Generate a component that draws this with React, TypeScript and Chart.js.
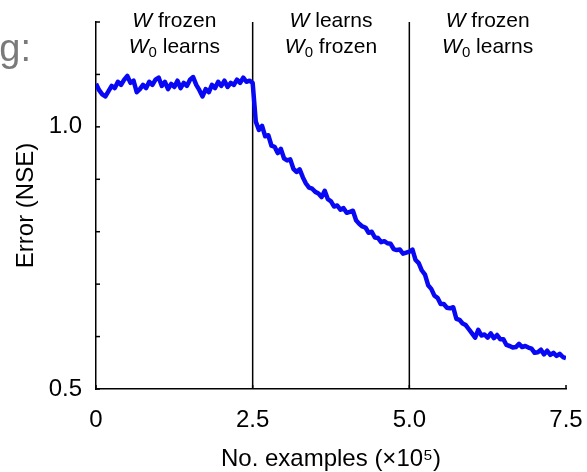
import React, { useEffect, useRef } from 'react';
import { Chart, registerables } from 'chart.js';

Chart.register(...registerables);

// ---------- data ----------
const SAMPLE_STEP = 0.05; // ×10^5 examples between samples

// Phase 1: x = 0 … 2.5 (W frozen, W0 learns)
const phase1Error = [
  1.082, 1.070, 1.062, 1.058, 1.068, 1.078, 1.074, 1.086, 1.080, 1.090,
  1.097, 1.084, 1.088, 1.066, 1.072, 1.080, 1.074, 1.086, 1.080, 1.090,
  1.094, 1.078, 1.086, 1.072, 1.082, 1.076, 1.088, 1.074, 1.084, 1.078,
  1.090, 1.095, 1.080, 1.070, 1.058, 1.072, 1.066, 1.080, 1.074, 1.086,
  1.078, 1.088, 1.076, 1.084, 1.080, 1.090, 1.084, 1.094, 1.086, 1.088,
  1.084,
];

// Phase 2: x = 2.55 … 5.0 (W learns, W0 frozen)
const phase2Error = [
  1.010, 0.994, 1.002, 0.982, 0.984, 0.964, 0.962, 0.950, 0.958, 0.940,
  0.936, 0.938, 0.920, 0.914, 0.919, 0.904, 0.892, 0.884, 0.882, 0.876,
  0.873, 0.866, 0.878, 0.862, 0.858, 0.848, 0.850, 0.842, 0.845, 0.836,
  0.838, 0.840, 0.822, 0.815, 0.810, 0.808, 0.798, 0.800, 0.789, 0.788,
  0.780, 0.782, 0.778, 0.777, 0.767, 0.765, 0.766, 0.758, 0.760, 0.762,
];

// Phase 3: x = 5.05 … 7.5 (W frozen, W0 learns)
const phase3Error = [
  0.766, 0.746, 0.740, 0.726, 0.718, 0.698, 0.691, 0.678, 0.674, 0.662,
  0.662, 0.655, 0.654, 0.656, 0.634, 0.632, 0.625, 0.622, 0.614, 0.606,
  0.598, 0.613, 0.602, 0.604, 0.598, 0.606, 0.597, 0.603, 0.595, 0.595,
  0.584, 0.582, 0.579, 0.580, 0.586, 0.580, 0.582, 0.579, 0.577, 0.569,
  0.570, 0.575, 0.566, 0.573, 0.565, 0.569, 0.563, 0.567, 0.561, 0.559,
];

const phaseBounds = [0, 2.5, 5.0, 7.5];
const phaseWLabels = ['frozen', 'learns', 'frozen'];
const phaseW0Labels = ['learns', 'frozen', 'learns'];

const xTickLabels = ['0', '2.5', '5.0', '7.5'];
const yLabeledTicks = ['0.5', '1.0'];
const X_MIN = 0;
const X_MAX = 7.5;
const X_STEP = 2.5;
const Y_MIN = 0.5;
const Y_MAX = 1.2;
const Y_STEP = 0.1;

const xTitle = 'No. examples (×10⁵)';
const yTitle = 'Error (NSE)';
const panelTitleTail = 'g:';

// ---------- style ----------
const FONT = '"Liberation Sans", Arial, Helvetica, sans-serif';
const LINE_BLUE = '#0808f4';

const decorPlugin = {
  id: 'decor',
  beforeDatasetsDraw(chart: any) {
    const { ctx, chartArea, scales } = chart;
    const x = scales.x;
    const y = scales.y;
    ctx.save();
    ctx.strokeStyle = '#000';
    ctx.lineWidth = 1.5;
    // phase boundaries
    phaseBounds.slice(1, -1).forEach((v) => {
      const px = x.getPixelForValue(v);
      ctx.beginPath();
      ctx.moveTo(px, chartArea.top);
      ctx.lineTo(px, chartArea.bottom);
      ctx.stroke();
    });
    // inward ticks
    y.ticks.forEach((t: any) => {
      const py = y.getPixelForValue(t.value);
      ctx.beginPath();
      ctx.moveTo(chartArea.left, py);
      ctx.lineTo(chartArea.left + 4, py);
      ctx.stroke();
    });
    x.ticks.forEach((t: any) => {
      const px = x.getPixelForValue(t.value);
      ctx.beginPath();
      ctx.moveTo(px, chartArea.bottom);
      ctx.lineTo(px, chartArea.bottom - 4);
      ctx.stroke();
    });
    ctx.restore();
  },
  afterDraw(chart: any) {
    const { ctx, scales } = chart;
    const x = scales.x;
    ctx.save();
    ctx.fillStyle = '#000';
    ctx.textBaseline = 'alphabetic';
    ctx.textAlign = 'left';
    const mainFont = `21px ${FONT}`;
    const italFont = `italic 21px ${FONT}`;
    const subFont = `15px ${FONT}`;
    for (let i = 0; i < phaseWLabels.length; i++) {
      const cx = (x.getPixelForValue(phaseBounds[i]) + x.getPixelForValue(phaseBounds[i + 1])) / 2;
      // line 1: "W frozen"
      ctx.font = italFont;
      const wW = ctx.measureText('W').width;
      ctx.font = mainFont;
      const r1 = ' ' + phaseWLabels[i];
      const r1W = ctx.measureText(r1).width;
      let sx = cx - (wW + r1W) / 2;
      ctx.font = italFont;
      ctx.fillText('W', sx, 27);
      ctx.font = mainFont;
      ctx.fillText(r1, sx + wW, 27);
      // line 2: "W0 learns"
      ctx.font = subFont;
      const subW = ctx.measureText('0').width;
      ctx.font = mainFont;
      const r2 = ' ' + phaseW0Labels[i];
      const r2W = ctx.measureText(r2).width;
      sx = cx - (wW + subW + r2W) / 2;
      ctx.font = italFont;
      ctx.fillText('W', sx, 53);
      ctx.font = subFont;
      ctx.fillText('0', sx + wW, 57);
      ctx.font = mainFont;
      ctx.fillText(r2, sx + wW + subW, 53);
    }
    // cropped panel heading
    ctx.fillStyle = '#7a7a7a';
    ctx.font = `38px ${FONT}`;
    ctx.textAlign = 'right';
    ctx.fillText(panelTitleTail, 31, 61);
    ctx.restore();
  },
};

export default function App() {
  const canvasRef = useRef<HTMLCanvasElement | null>(null);

  useEffect(() => {
    if (!canvasRef.current) return;
    const series = [...phase1Error, ...phase2Error, ...phase3Error];
    const points = series.map((v, i) => ({ x: i * SAMPLE_STEP, y: v }));

    const chart = new Chart(canvasRef.current, {
      type: 'line',
      data: {
        datasets: [
          {
            data: points,
            borderColor: LINE_BLUE,
            borderWidth: 4.5,
            pointRadius: 0,
            tension: 0,
            borderJoinStyle: 'round',
            fill: false,
          } as any,
        ],
      },
      options: {
        animation: false,
        responsive: false,
        devicePixelRatio: 1,
        layout: { padding: { left: 0, right: 21, top: 22, bottom: 0 } },
        plugins: {
          legend: { display: false },
          tooltip: { enabled: false },
        },
        scales: {
          x: {
            type: 'linear',
            min: X_MIN,
            max: X_MAX,
            grid: { display: false },
            border: { display: true, color: '#000', width: 1.5 },
            ticks: {
              stepSize: X_STEP,
              autoSkip: false,
              maxRotation: 0,
              padding: 9,
              color: '#000',
              font: { family: FONT, size: 24 },
              callback: (_v: any, i: number) => xTickLabels[i] ?? '',
            },
            title: {
              display: true,
              text: xTitle,
              color: '#000',
              font: { family: FONT, size: 24, lineHeight: 1 },
              padding: { top: 0, bottom: 1 },
            },
            afterFit: (s: any) => {
              s.height = 83;
              s.paddingLeft = 0;
              s.paddingRight = 0;
            },
          },
          y: {
            type: 'linear',
            min: Y_MIN,
            max: Y_MAX,
            grid: { display: false },
            border: { display: true, color: '#000', width: 1.5 },
            ticks: {
              stepSize: Y_STEP,
              autoSkip: false,
              padding: 6,
              color: '#000',
              font: { family: FONT, size: 24 },
              callback: (v: any) => {
                const hit = yLabeledTicks.find((l) => Math.abs(parseFloat(l) - Number(v)) < 1e-6);
                return hit ?? '';
              },
            },
            title: {
              display: true,
              text: yTitle,
              color: '#000',
              font: { family: FONT, size: 24, lineHeight: 1.2 },
              padding: { top: 12, bottom: 0 },
            },
            afterFit: (s: any) => {
              s.width = 96;
              s.paddingTop = 0;
              s.paddingBottom = 0;
            },
          },
        },
      },
      plugins: [decorPlugin],
    });
    return () => chart.destroy();
  }, []);

  return (
    <div style={{ position: 'absolute', left: 0, top: 0, width: 587, height: 472, background: '#fff' }}>
      <canvas ref={canvasRef} width={587} height={472} style={{ display: 'block' }} />
    </div>
  );
}
